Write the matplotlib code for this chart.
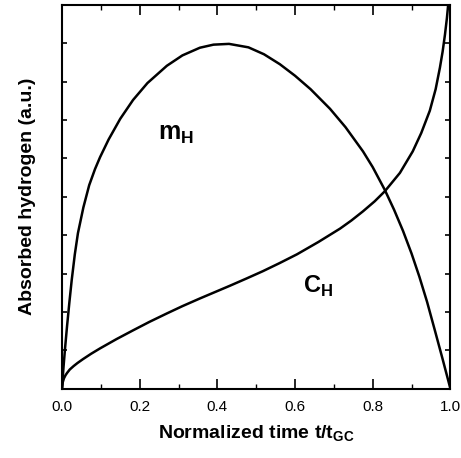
import numpy as np
import matplotlib.pyplot as plt
from matplotlib.ticker import MultipleLocator, NullFormatter

plt.rcParams['font.family'] = ['Liberation Sans', 'DejaVu Sans']
plt.rcParams['mathtext.fontset'] = 'custom'
plt.rcParams['mathtext.bf'] = 'Liberation Sans:bold'
plt.rcParams['mathtext.rm'] = 'Liberation Sans'

# m_H curve
m_t = [0.0, 0.002, 0.004, 0.008, 0.013, 0.019, 0.025, 0.033, 0.041, 0.055,
       0.07, 0.085, 0.098, 0.12, 0.15, 0.183, 0.22, 0.27, 0.31, 0.355,
       0.39, 0.43, 0.48, 0.52, 0.561, 0.60, 0.64, 0.69, 0.73, 0.775,
       0.80, 0.831, 0.855, 0.878, 0.90, 0.92, 0.94, 0.96, 0.98, 1.0]
m_h = [0.0, 0.3, 0.58, 1.07, 1.63, 2.25, 2.83, 3.5, 4.05, 4.72,
       5.3, 5.72, 6.03, 6.49, 7.03, 7.52, 7.96, 8.41, 8.68, 8.88,
       8.96, 8.98, 8.89, 8.71, 8.45, 8.15, 7.8, 7.29, 6.81, 6.18,
       5.77, 5.18, 4.66, 4.11, 3.52, 2.92, 2.26, 1.52, 0.77, 0.0]

# C_H curve
c_t = [0.0, 0.002, 0.005, 0.009, 0.013, 0.02, 0.03, 0.04, 0.054, 0.075,
       0.098, 0.14, 0.183, 0.225, 0.27, 0.31, 0.355, 0.39, 0.432, 0.475,
       0.517, 0.56, 0.605, 0.66, 0.716, 0.745, 0.775, 0.805, 0.831, 0.87,
       0.903, 0.925, 0.947, 0.962, 0.973, 0.98, 0.986, 0.991, 0.994, 0.997]
c_h = [0.0, 0.17, 0.27, 0.35, 0.41, 0.5, 0.59, 0.67, 0.77, 0.91,
       1.05, 1.29, 1.52, 1.74, 1.96, 2.15, 2.35, 2.5, 2.68, 2.87,
       3.06, 3.27, 3.5, 3.82, 4.17, 4.38, 4.62, 4.88, 5.14, 5.62,
       6.18, 6.66, 7.24, 7.8, 8.36, 8.78, 9.22, 9.65, 9.97, 10.3]

fig = plt.figure(figsize=(4.61, 4.58), dpi=100)
ax = fig.add_axes([0.1345, 0.1513, 0.8425, 0.8384])

ax.plot(m_t, m_h, color='black', lw=1.8)
ax.plot(c_t, c_h, color='black', lw=1.8)

ax.set_xlim(0, 1.0)
ax.set_ylim(0, 10)

ax.xaxis.set_major_locator(MultipleLocator(0.2))
ax.xaxis.set_minor_locator(MultipleLocator(0.1))
ax.yaxis.set_major_locator(MultipleLocator(1))
ax.yaxis.set_major_formatter(NullFormatter())
ax.tick_params(which='major', direction='in', length=7, width=1.2,
               top=True, right=True, labelsize=11, pad=8)
ax.tick_params(which='minor', direction='in', length=3.5, width=1.0,
               top=True, right=True)
ax.tick_params(axis='y', which='major', length=3.5)
ax.xaxis.set_major_formatter(lambda v, p: '%.1f' % v)
for s in ax.spines.values():
    s.set_linewidth(1.5)

ax.text(0.247, 6.48, r'$\mathbf{m}_{\mathbf{H}}$', fontsize=18)
ax.text(0.62, 2.49, r'$\mathbf{C}_{\mathbf{H}}$', fontsize=17)

ax.set_xlabel(r'Normalized time t/t$_{\mathbf{GC}}$', fontsize=14,
              fontweight='bold', labelpad=7)
ax.set_ylabel('Absorbed hydrogen (a.u.)', fontsize=14, fontweight='bold',
              labelpad=11)

fig.savefig('out.png', dpi=100)
